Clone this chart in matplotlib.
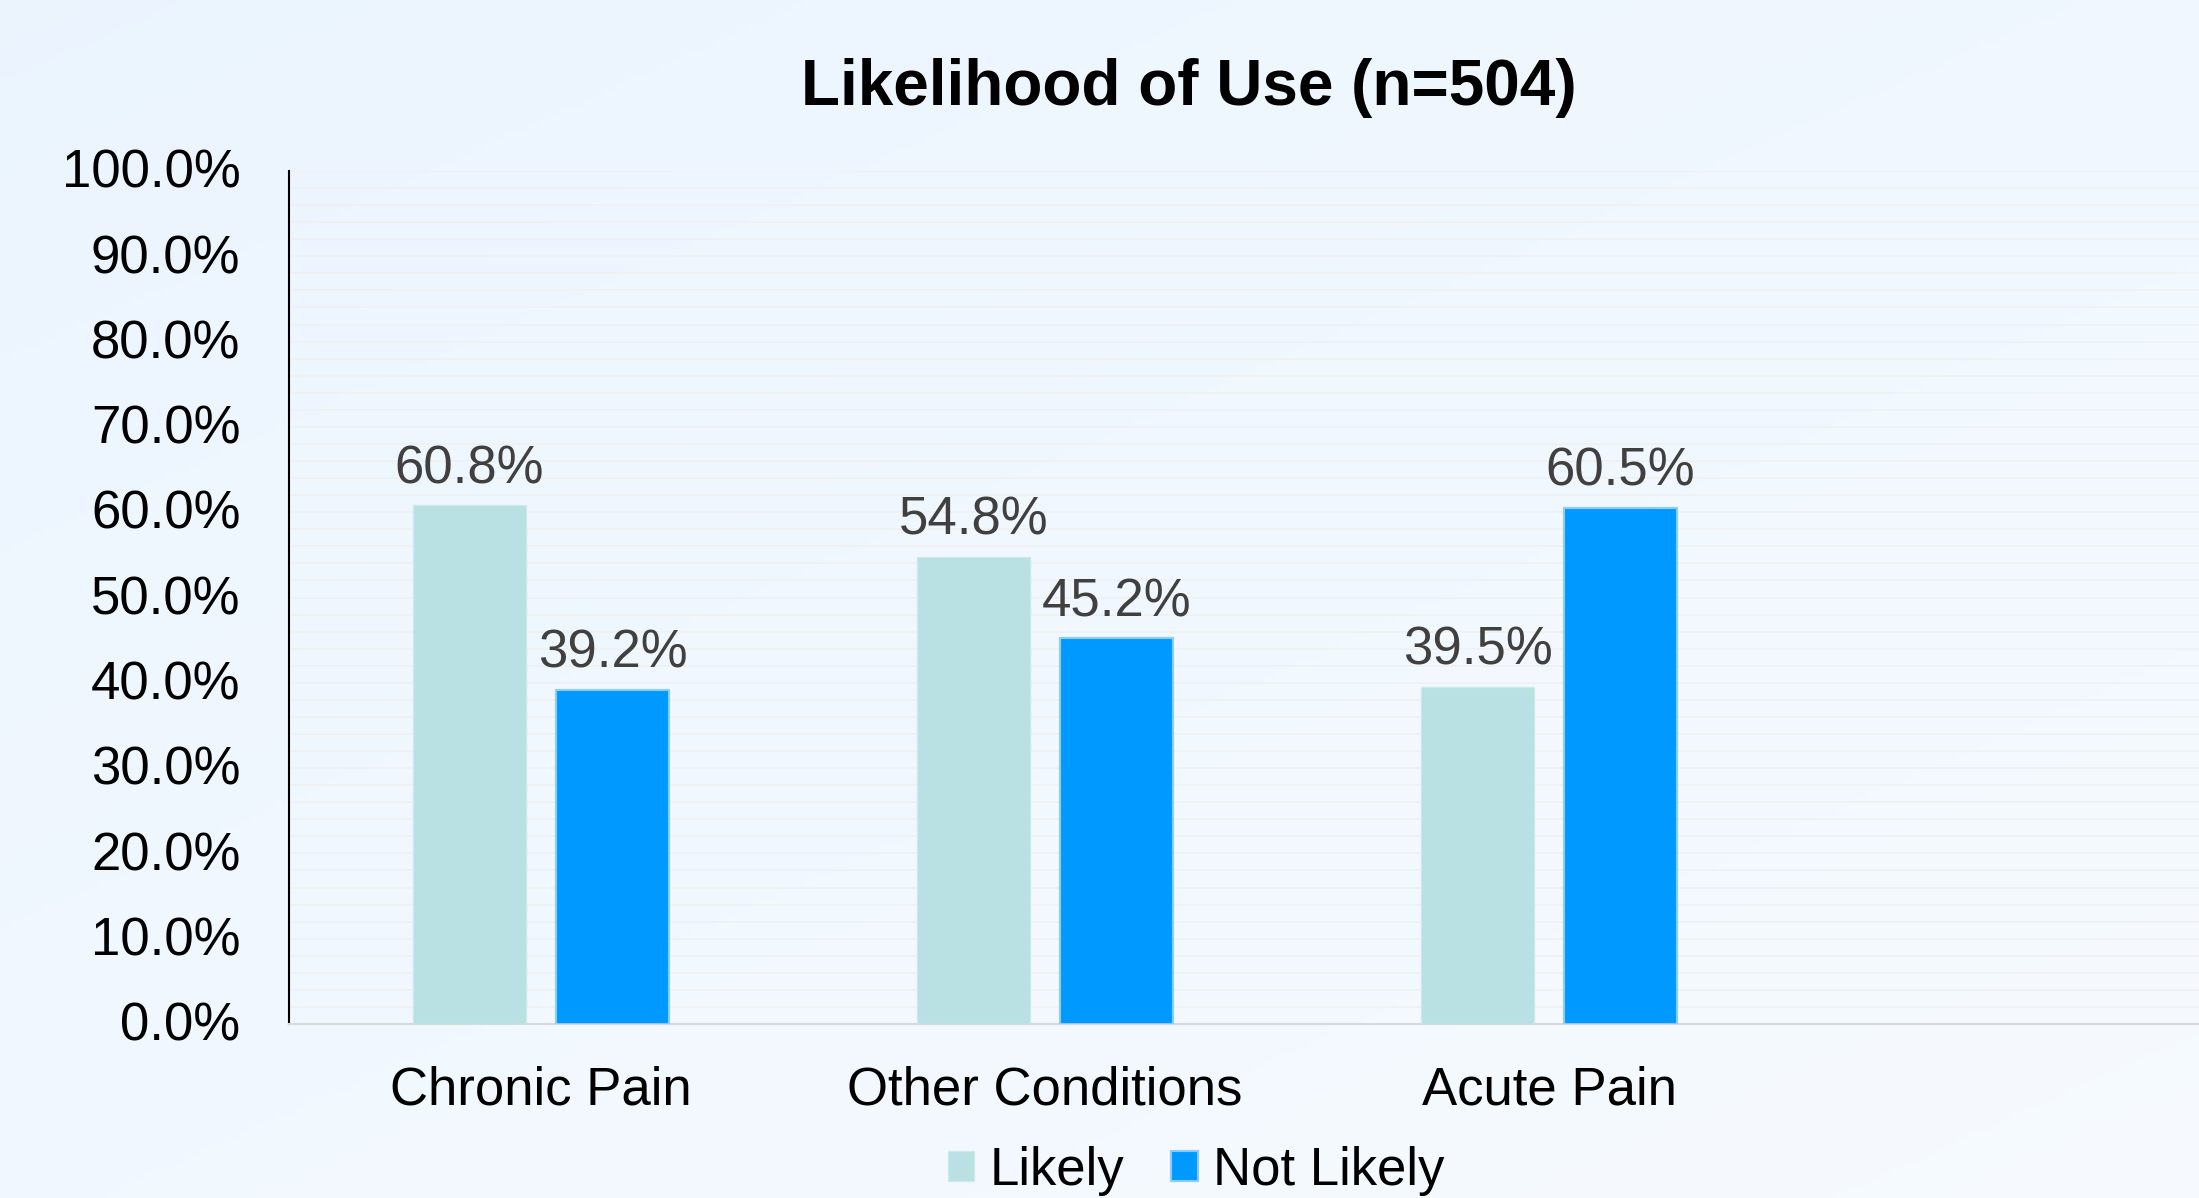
import numpy as np
import matplotlib
matplotlib.use("Agg")
import matplotlib.pyplot as plt
import matplotlib.transforms as mtransforms
from matplotlib.ticker import PercentFormatter, MultipleLocator

# data
categories = ["Chronic Pain", "Other Conditions", "Acute Pain"]
likely = [60.8, 54.8, 39.5]
not_likely = [39.2, 45.2, 60.5]
series_names = ["Likely", "Not Likely"]

plt.rcParams["font.family"] = ["Liberation Sans", "DejaVu Sans"]

W, H = 2199, 1198
fig = plt.figure(figsize=(W / 100, H / 100), dpi=100)

# soft blue gradient background
bg = fig.add_axes([0, 0, 1, 1], zorder=-10)
gy, gx = np.mgrid[0:1:200j, 0:1:200j]
grad = 0.55 * gy + 0.45 * gx
top = np.array([0.922, 0.960, 0.996])
bot = np.array([0.967, 0.982, 1.0])
img = top[None, None, :] * (1 - grad[..., None]) + bot[None, None, :] * grad[..., None]
bg.imshow(img, aspect="auto", extent=[0, 1, 0, 1], origin="upper")
bg.axis("off")

# plot area: one category slot is ~504 px, axis runs past the right edge
left, bottom_px, top_px = 289, 1024, 171
slot = 504
n_slots = len(categories) + 1
ax = fig.add_axes([left / W, 1 - bottom_px / H, slot * n_slots / W, (bottom_px - top_px) / H])
ax.set_facecolor("none")

x = np.arange(len(categories))
w = 0.224
off = 0.142
b1 = ax.bar(x - off, likely, w, color="#B9E0E2", edgecolor="#CDEAEC", linewidth=1.0,
            label=series_names[0], zorder=3)
b2 = ax.bar(x + off, not_likely, w, color="#0099FF", edgecolor="#8CCBFF", linewidth=1.5,
            label=series_names[1], zorder=3)

for bars, vals in ((b1, likely), (b2, not_likely)):
    for r, v in zip(bars, vals):
        ax.annotate(f"{v:.1f}%", (r.get_x() + r.get_width() / 2, v),
                    xytext=(0, 16), textcoords="offset points",
                    ha="center", va="baseline", fontsize=38, color="#404040")

ax.set_xlim(-0.5, n_slots - 0.5)
ax.set_ylim(0, 100)
ax.yaxis.set_major_locator(MultipleLocator(10))
ax.yaxis.set_minor_locator(MultipleLocator(2))
ax.yaxis.set_major_formatter(PercentFormatter(decimals=1))
ax.grid(axis="y", which="both", color="#F0F0F0", linewidth=1.2, zorder=0)
ax.set_axisbelow(True)

ax.set_xticks(x)
ax.set_xticklabels(categories)
ax.tick_params(axis="x", length=0, pad=30, labelsize=38, labelcolor="black")
ax.tick_params(axis="y", which="both", length=0, pad=35, labelsize=38, labelcolor="black")

# nudge the y labels up a touch
shift = mtransforms.ScaledTranslation(0, 2 / 72, fig.dpi_scale_trans)
for lab in ax.get_yticklabels():
    lab.set_transform(lab.get_transform() + shift)

for s in ("top", "right"):
    ax.spines[s].set_visible(False)
ax.spines["left"].set_color("black")
ax.spines["left"].set_linewidth(1.5)
ax.spines["bottom"].set_color("#D9D9D9")
ax.spines["bottom"].set_linewidth(1.5)

fig.text(1189 / W, 1 - 105 / H, "Likelihood of Use (n=504)", ha="center", va="baseline",
         fontsize=46, fontweight="bold", color="black")

fig.legend(handles=[b1, b2], labels=series_names, loc="center",
           bbox_to_anchor=(1196 / W, 1 - 1171 / H), ncol=2, frameon=False,
           fontsize=38, handlelength=0.5, handleheight=0.5, handletextpad=0.28,
           columnspacing=0.9, borderpad=0)

fig.savefig("out.png", dpi=100)
